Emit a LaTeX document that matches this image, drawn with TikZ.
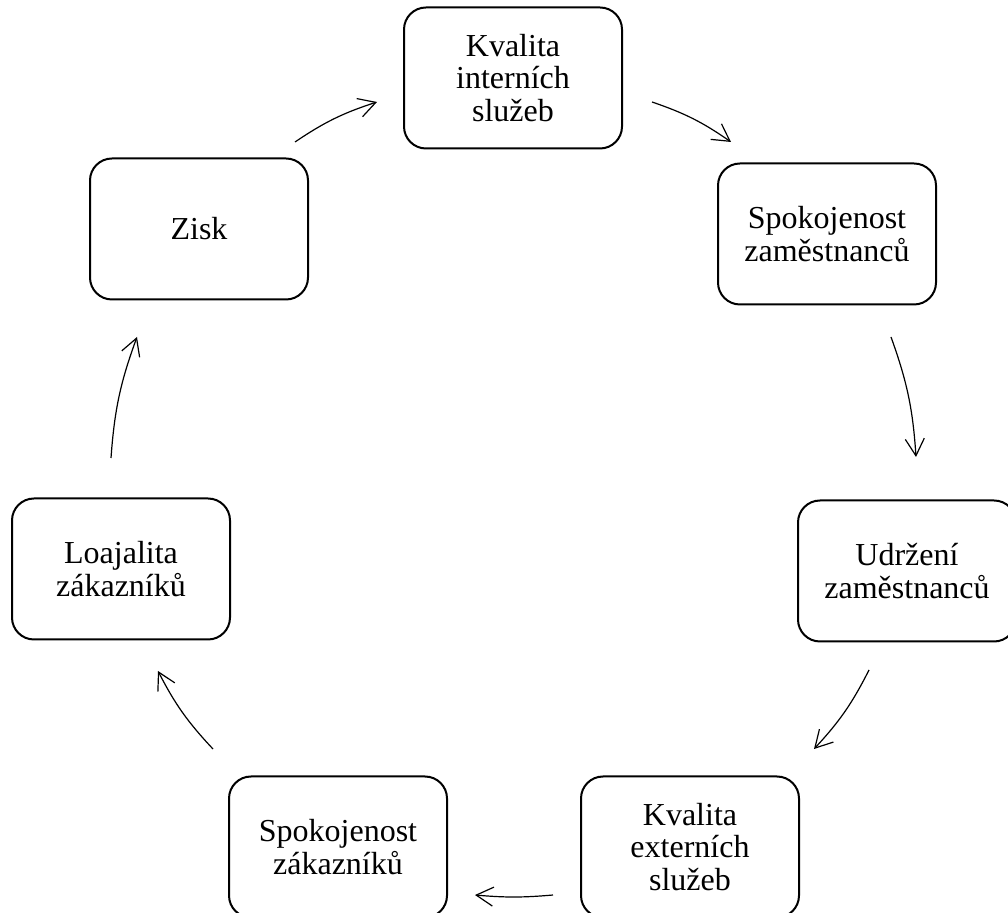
\documentclass[tikz,border=0pt]{standalone}
\usepackage{fontspec}
\setmainfont{Liberation Serif}
\usetikzlibrary{arrows.meta}
\begin{document}
\begin{tikzpicture}[x=1pt,y=1pt,
  stage/.style={draw, line width=2pt, rounded corners=22pt,
    minimum width=218pt, minimum height=141pt, align=center,
    inner sep=0pt, font=\fontsize{32}{32.5}\selectfont},
  flow/.style={-{Straight Barb[length=17pt,width=19pt]}, line width=1.2pt}]
\useasboundingbox (0,0) rectangle (1008,912);

% stages of the cycle
\node[stage] (kint)  at (513,834) {Kvalita\\interních\\služeb};
\node[stage] (spzam) at (827,678) {Spokojenost\\zaměstnanců};
\node[stage] (udrz)  at (907,341) {Udržení\\zaměstnanců};
\node[stage] (kext)  at (690,65)  {Kvalita\\externích\\služeb};
\node[stage] (spzak) at (338,65)  {Spokojenost\\zákazníků};
\node[stage] (loaj)  at (121,343) {Loajalita\\zákazníků};
\node[stage] (zisk)  at (199,683) {Zisk};

% arrow end points between neighbouring stages
\coordinate (a1s) at (295,770); \coordinate (a1e) at (377,810);
\coordinate (a2s) at (652,810); \coordinate (a2e) at (731,770);
\coordinate (a3s) at (891,575); \coordinate (a3e) at (916,455);
\coordinate (a4s) at (869,242); \coordinate (a4e) at (814,163);
\coordinate (a5s) at (553,17);  \coordinate (a5e) at (475,17);
\coordinate (a6s) at (213,163); \coordinate (a6e) at (158,241);
\coordinate (a7s) at (111,454); \coordinate (a7e) at (137,575);

% clockwise flow
\draw[flow] (a1s) to[bend left=8] (a1e);
\draw[flow] (a2s) to[bend left=8] (a2e);
\draw[flow] (a3s) to[bend left=8] (a3e);
\draw[flow] (a4s) to[bend left=8] (a4e);
\draw[flow] (a5s) to[bend left=5] (a5e);
\draw[flow] (a6s) to[bend left=8] (a6e);
\draw[flow] (a7s) to[bend left=8] (a7e);
\end{tikzpicture}
\end{document}
